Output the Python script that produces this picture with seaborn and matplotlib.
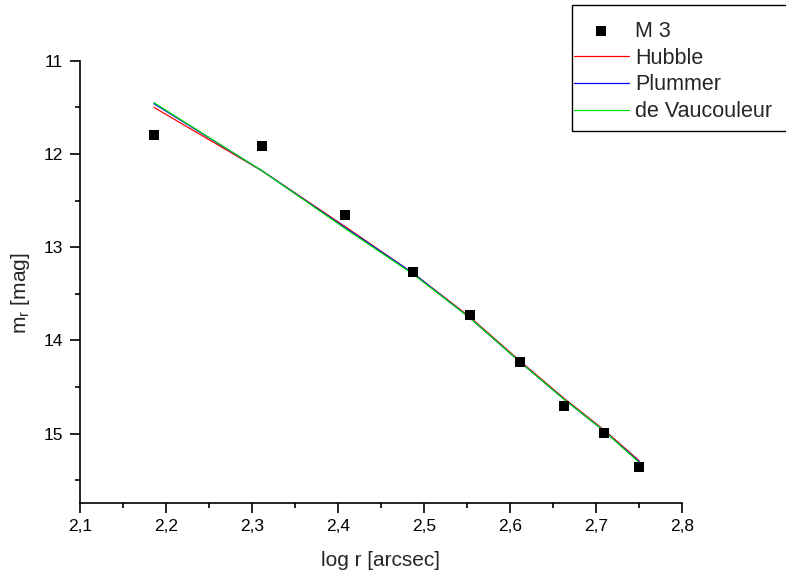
import matplotlib
matplotlib.use("Agg")
import matplotlib.pyplot as plt
import seaborn as sns
import pandas as pd
from matplotlib.patches import Rectangle
from matplotlib.ticker import MultipleLocator, FuncFormatter

# ---- data ----
log_r = [2.186, 2.3116, 2.4085, 2.4876, 2.5538, 2.6118, 2.663, 2.7097, 2.7505]
m3_mag = [11.796, 11.917, 12.657, 13.265, 13.725, 14.229, 14.70, 14.994, 15.358]
hubble = [11.50, 12.18, 12.78, 13.28, 13.75, 14.22, 14.62, 14.96, 15.29]
plummer = [11.46, 12.18, 12.79, 13.28, 13.76, 14.23, 14.63, 14.97, 15.30]
devauc = [11.45, 12.18, 12.80, 13.29, 13.76, 14.23, 14.63, 14.97, 15.31]

sns.set_style("ticks")
plt.rcParams['font.family'] = ['Liberation Sans', 'DejaVu Sans']
plt.rcParams['mathtext.fontset'] = 'custom'
plt.rcParams['mathtext.rm'] = 'Liberation Sans'

fig = plt.figure(figsize=(7.86, 5.8), dpi=100)
ax = fig.add_axes([80 / 786, 1 - 502.7 / 580, (681.7 - 80) / 786, (502.7 - 60.7) / 580])

df_pts = pd.DataFrame({"x": log_r, "y": m3_mag})
df_lines = pd.DataFrame({
    "x": log_r * 3,
    "y": hubble + plummer + devauc,
    "model": ["Hubble"] * len(log_r) + ["Plummer"] * len(log_r) + ["de Vaucouleur"] * len(log_r),
})

sns.scatterplot(data=df_pts, x="x", y="y", marker="s", s=42, color="black",
                edgecolor="black", linewidth=0, ax=ax, label="M 3", zorder=3)
sns.lineplot(data=df_lines, x="x", y="y", hue="model",
             palette={"Hubble": "#ff0000", "Plummer": "#0000ff", "de Vaucouleur": "#00e000"},
             estimator=None, sort=False, linewidth=0.9, ax=ax, zorder=2)

ax.set_xlim(2.1, 2.8)
ax.set_ylim(15.74, 11.0)
ax.xaxis.set_major_locator(MultipleLocator(0.1))
ax.xaxis.set_minor_locator(MultipleLocator(0.05))
ax.yaxis.set_major_locator(MultipleLocator(1))
ax.yaxis.set_minor_locator(MultipleLocator(0.5))
ax.xaxis.set_major_formatter(FuncFormatter(lambda v, p: f"{v:.1f}".replace(".", ",")))
ax.yaxis.set_major_formatter(FuncFormatter(lambda v, p: f"{v:.0f}"))

for s in ["top", "right"]:
    ax.spines[s].set_visible(False)
for s in ["left", "bottom"]:
    ax.spines[s].set_linewidth(1.2)
    ax.spines[s].set_color("black")
ax.tick_params(which="major", direction="out", length=7, width=1.2, labelsize=12.5, colors="black", pad=5)
ax.tick_params(which="minor", direction="out", length=3.5, width=1.2, colors="black")

ax.set_xlabel("log r [arcsec]", fontsize=15)
ax.set_ylabel(r"m$_\mathregular{r}$ [mag]", fontsize=15)
ax.xaxis.set_label_coords(0.4986, (502.7 - 560) / 442, transform=ax.transAxes)
ax.xaxis.label.set_va("center")
ax.yaxis.set_label_coords((21 - 80) / 601.7, (502.7 - 293) / 442, transform=ax.transAxes)
ax.yaxis.label.set_va("center")

handles, labels = ax.get_legend_handles_labels()
leg = fig.legend(handles, labels, loc="upper left",
                 bbox_to_anchor=(574 / 786, 1 - 20.7 / 580), bbox_transform=fig.transFigure,
                 frameon=False, fontsize=15.5, borderpad=0, borderaxespad=0,
                 handlelength=2.55, handletextpad=0.3, labelspacing=0.27,
                 scatterpoints=1)
if ax.get_legend():
    ax.get_legend().remove()
fig.add_artist(Rectangle((571.7 / 786, 1 - 130.7 / 580), 0.5, (130.7 - 5) / 580,
                         transform=fig.transFigure, fill=False, edgecolor="black", linewidth=1.0))

fig.savefig("out.png", dpi=100)
